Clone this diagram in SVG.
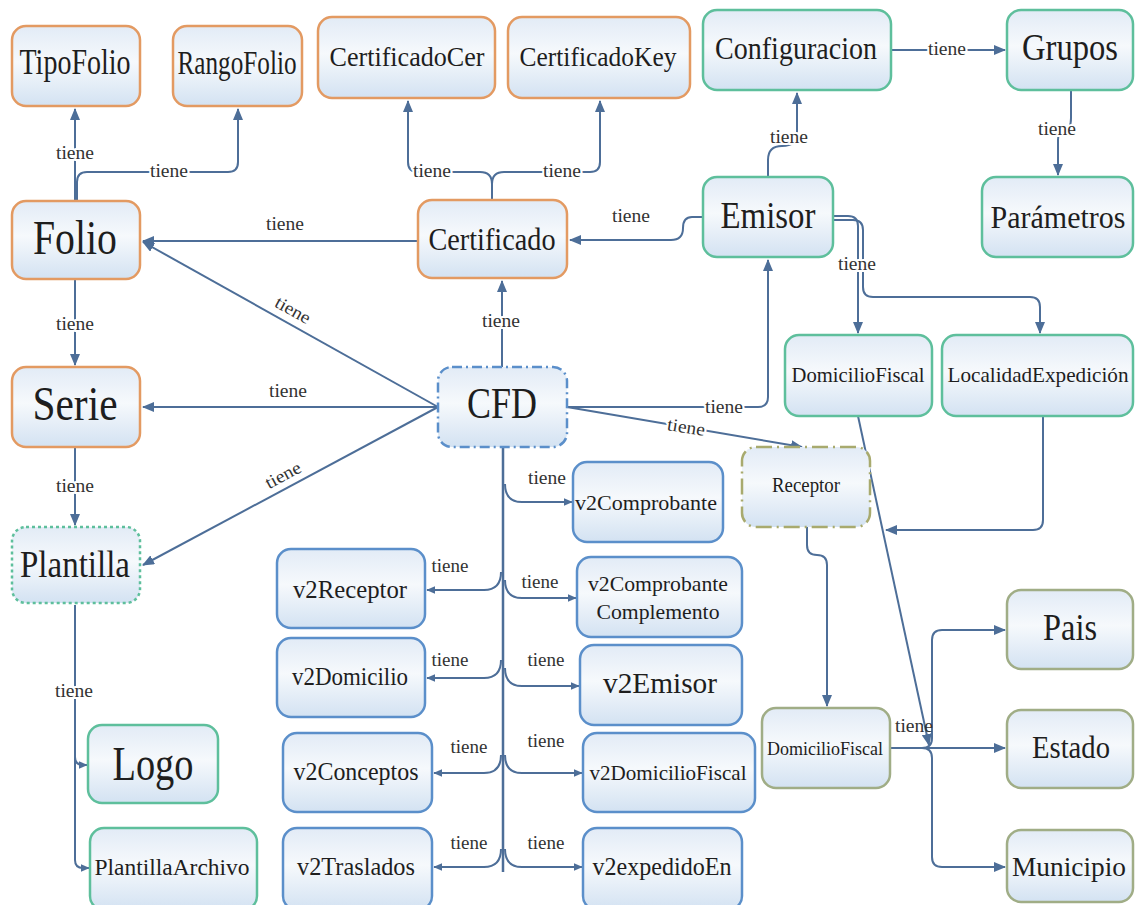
<svg xmlns="http://www.w3.org/2000/svg" width="1135" height="905" viewBox="0 0 1135 905">
<defs>
<linearGradient id="g" x1="0" y1="0" x2="0" y2="1">
<stop offset="0" stop-color="#e2ebf6"/>
<stop offset="0.45" stop-color="#f6f9fc"/>
<stop offset="1" stop-color="#d3e2f2"/>
</linearGradient>
<marker id="a" viewBox="0 0 12 10" refX="11" refY="5" markerWidth="12" markerHeight="10" markerUnits="userSpaceOnUse" orient="auto">
<path d="M0,0 L12,5 L0,10 Z" fill="#4d6e98"/>
</marker>
<marker id="s" viewBox="0 0 12 10" refX="11" refY="5" markerWidth="9" markerHeight="8" markerUnits="userSpaceOnUse" orient="auto">
<path d="M0,0 L12,5 L0,10 Z" fill="#4d6e98"/>
</marker>
</defs>
<style>
rect{fill:url(#g);stroke-width:2.5}
.o rect{stroke:#e39a62}
.gr rect{stroke:#5ebf9c}
.b rect{stroke:#5b8fca}
.ol rect{stroke:#a0ad86}
text{font-family:"Liberation Serif","DejaVu Serif",serif;fill:#1e1e1e;text-anchor:middle}
.c path,.c line{fill:none;stroke:#4d6e98;stroke-width:2}
.l text{font-size:18px;fill:#333;stroke:#fff;stroke-width:4;paint-order:stroke;stroke-linejoin:round}
</style>
<rect x="0" y="0" width="1135" height="905" style="fill:#fff;stroke:none"/>
<g id="connectors" class="c">
<path d="M75 201 L75 109" marker-end="url(#a)"/>
<path d="M77 201 L77 182 Q77 172 87 172 L228 172 Q238 172 238 162 L238 109" marker-end="url(#a)"/>
<path d="M418 241 L143 241" marker-end="url(#a)"/>
<path d="M492 200 L492 184 Q492 172 480 172 L418 172 Q408 172 408 162 L408 101" marker-end="url(#a)"/>
<path d="M492 200 L492 184 Q492 172 504 172 L590 172 Q600 172 600 162 L600 101" marker-end="url(#a)"/>
<path d="M703 217 L692 217 Q683 217 683 228 Q683 240 671 240 L570 240" marker-end="url(#a)"/>
<path d="M891 50 L1005 50" marker-end="url(#a)"/>
<path d="M768 177 L768 160 Q768 146 782 146 Q797 146 797 132 L797 93" marker-end="url(#a)"/>
<path d="M1071 90 L1071 118 Q1071 130 1064 130 Q1058 130 1058 140 L1058 175" marker-end="url(#a)"/>
<path d="M833 216 L848 216 Q858 216 858 226 L858 333" marker-end="url(#a)"/>
<path d="M833 220 L853 220 Q863 220 863 230 L863 287 Q863 297 873 297 L1030 297 Q1040 297 1040 307 L1040 333" marker-end="url(#a)"/>
<path d="M75 279 L75 365" marker-end="url(#a)"/>
<path d="M75 447 L75 525" marker-end="url(#a)"/>
<path d="M438 407 L143 242" marker-end="url(#a)"/>
<path d="M438 407 L143 407" marker-end="url(#a)"/>
<path d="M438 407 L143 565" marker-end="url(#a)"/>
<path d="M502 367 L502 281" marker-end="url(#a)"/>
<path d="M567 407 L758 407 Q768 407 768 397 L768 260" marker-end="url(#a)"/>
<path d="M567 407 L802 447" marker-end="url(#a)"/>
<path d="M503 447 L503 872" style="stroke-width:2.5"/>
<path d="M505 484 Q505 502 522 502 L572 502" marker-end="url(#s)"/>
<path d="M505 580 Q505 598 522 598 L576 598" marker-end="url(#s)"/>
<path d="M505 668 Q505 686 522 686 L579 686" marker-end="url(#s)"/>
<path d="M505 755 Q505 773 522 773 L582 773" marker-end="url(#s)"/>
<path d="M505 849 Q505 867 522 867 L582 867" marker-end="url(#s)"/>
<path d="M501 572 Q501 590 484 590 L427 590" marker-end="url(#s)"/>
<path d="M501 660 Q501 678 484 678 L427 678" marker-end="url(#s)"/>
<path d="M501 755 Q501 773 484 773 L434 773" marker-end="url(#s)"/>
<path d="M501 849 Q501 867 484 867 L434 867" marker-end="url(#s)"/>
<path d="M75 605 L75 860 Q75 868 83 868 L89 868" marker-end="url(#s)"/>
<path d="M75 757 Q75 765 83 765 L87 765" marker-end="url(#s)"/>
<path d="M1043 416 L1043 520 Q1043 530 1033 530 L886 530" marker-end="url(#a)"/>
<path d="M858 416 L929 745" marker-end="url(#a)"/>
<path d="M807 527 L807 545 Q807 555 817 555 Q827 555 827 565 L827 706" marker-end="url(#a)"/>
<path d="M890 748 L922 748 Q932 748 932 738 L932 640 Q932 630 942 630 L1005 630" marker-end="url(#a)"/>
<path d="M890 748 L1005 748" marker-end="url(#a)"/>
<path d="M922 748 Q932 748 932 758 L932 857 Q932 867 942 867 L1005 867" marker-end="url(#a)"/>
</g>
<g id="labels" class="l">
<text x="75" y="159" textLength="38" lengthAdjust="spacingAndGlyphs">tiene</text>
<text x="169" y="177" textLength="38" lengthAdjust="spacingAndGlyphs">tiene</text>
<text x="285" y="230" textLength="38" lengthAdjust="spacingAndGlyphs">tiene</text>
<text x="432" y="177" textLength="38" lengthAdjust="spacingAndGlyphs">tiene</text>
<text x="562" y="177" textLength="38" lengthAdjust="spacingAndGlyphs">tiene</text>
<text x="631" y="222" textLength="38" lengthAdjust="spacingAndGlyphs">tiene</text>
<text x="947" y="55" textLength="38" lengthAdjust="spacingAndGlyphs">tiene</text>
<text x="789" y="143" textLength="38" lengthAdjust="spacingAndGlyphs">tiene</text>
<text x="1057" y="135" textLength="38" lengthAdjust="spacingAndGlyphs">tiene</text>
<text x="857" y="270" textLength="38" lengthAdjust="spacingAndGlyphs">tiene</text>
<text x="75" y="330" textLength="38" lengthAdjust="spacingAndGlyphs">tiene</text>
<text x="288" y="397" textLength="38" lengthAdjust="spacingAndGlyphs">tiene</text>
<text x="293" y="316" textLength="38" lengthAdjust="spacingAndGlyphs" transform="rotate(29 293 310)">tiene</text>
<text x="75" y="492" textLength="38" lengthAdjust="spacingAndGlyphs">tiene</text>
<text x="283" y="481" textLength="38" lengthAdjust="spacingAndGlyphs" transform="rotate(-28 283 475)">tiene</text>
<text x="501" y="327" textLength="38" lengthAdjust="spacingAndGlyphs">tiene</text>
<text x="724" y="413" textLength="38" lengthAdjust="spacingAndGlyphs">tiene</text>
<text x="686" y="433" textLength="38" lengthAdjust="spacingAndGlyphs" transform="rotate(9 686 428)">tiene</text>
<text x="547" y="484" textLength="38" lengthAdjust="spacingAndGlyphs">tiene</text>
<text x="450" y="572" textLength="37" lengthAdjust="spacingAndGlyphs">tiene</text>
<text x="540" y="588" textLength="37" lengthAdjust="spacingAndGlyphs">tiene</text>
<text x="450" y="666" textLength="37" lengthAdjust="spacingAndGlyphs">tiene</text>
<text x="546" y="666" textLength="37" lengthAdjust="spacingAndGlyphs">tiene</text>
<text x="469" y="753" textLength="37" lengthAdjust="spacingAndGlyphs">tiene</text>
<text x="546" y="747" textLength="37" lengthAdjust="spacingAndGlyphs">tiene</text>
<text x="469" y="849" textLength="37" lengthAdjust="spacingAndGlyphs">tiene</text>
<text x="546" y="849" textLength="37" lengthAdjust="spacingAndGlyphs">tiene</text>
<text x="74" y="697" textLength="38" lengthAdjust="spacingAndGlyphs">tiene</text>
<text x="914" y="732" textLength="38" lengthAdjust="spacingAndGlyphs" style="stroke:none">tiene</text>
</g>
<g id="TipoFolio" class="o"><rect x="12" y="26" width="128" height="80" rx="14"/><text x="75" y="74" font-size="35" textLength="111" lengthAdjust="spacingAndGlyphs">TipoFolio</text></g>
<g id="RangoFolio" class="o"><rect x="173" y="26" width="129" height="80" rx="14"/><text x="237" y="74" font-size="34" textLength="119" lengthAdjust="spacingAndGlyphs">RangoFolio</text></g>
<g id="CertificadoCer" class="o"><rect x="318" y="17" width="177" height="81" rx="14"/><text x="407" y="66" font-size="28" textLength="155" lengthAdjust="spacingAndGlyphs">CertificadoCer</text></g>
<g id="CertificadoKey" class="o"><rect x="508" y="17" width="182" height="81" rx="14"/><text x="598" y="66" font-size="28" textLength="157" lengthAdjust="spacingAndGlyphs">CertificadoKey</text></g>
<g id="Configuracion" class="gr"><rect x="703" y="10" width="188" height="80" rx="14"/><text x="796" y="59" font-size="31" textLength="162" lengthAdjust="spacingAndGlyphs">Configuracion</text></g>
<g id="Grupos" class="gr"><rect x="1007" y="10" width="126" height="80" rx="14"/><text x="1070" y="60" font-size="38" textLength="96" lengthAdjust="spacingAndGlyphs">Grupos</text></g>
<g id="Folio" class="o"><rect x="12" y="201" width="128" height="78" rx="14"/><text x="75" y="254" font-size="48" textLength="84" lengthAdjust="spacingAndGlyphs">Folio</text></g>
<g id="Certificado" class="o"><rect x="418" y="200" width="149" height="78" rx="14"/><text x="492" y="250" font-size="32" textLength="127" lengthAdjust="spacingAndGlyphs">Certificado</text></g>
<g id="Emisor" class="gr"><rect x="703" y="177" width="130" height="80" rx="14"/><text x="768" y="228" font-size="38" textLength="95" lengthAdjust="spacingAndGlyphs">Emisor</text></g>
<g id="Parametros" class="gr"><rect x="982" y="177" width="151" height="80" rx="14"/><text x="1058" y="228" font-size="31" textLength="135" lengthAdjust="spacingAndGlyphs">Parámetros</text></g>
<g id="Serie" class="o"><rect x="12" y="367" width="128" height="80" rx="14"/><text x="75" y="420" font-size="48" textLength="85" lengthAdjust="spacingAndGlyphs">Serie</text></g>
<g id="CFD"><rect x="438" y="367" width="129" height="80" rx="14" style="stroke:#5b8fca;stroke-dasharray:10 4 2 4"/><text x="502" y="418" font-size="44" textLength="70" lengthAdjust="spacingAndGlyphs">CFD</text></g>
<g id="DomicilioFiscalEmisor" class="gr"><rect x="785" y="335" width="147" height="81" rx="14"/><text x="858" y="382" font-size="21" textLength="133" lengthAdjust="spacingAndGlyphs">DomicilioFiscal</text></g>
<g id="LocalidadExpedicion" class="gr"><rect x="942" y="335" width="191" height="81" rx="14"/><text x="1038" y="382" font-size="21" textLength="181" lengthAdjust="spacingAndGlyphs">LocalidadExpedición</text></g>
<g id="Receptor"><rect x="742" y="447" width="128" height="80" rx="14" style="stroke:#a8aa6e;stroke-dasharray:16 5 2 5"/><text x="806" y="492" font-size="20" textLength="68" lengthAdjust="spacingAndGlyphs">Receptor</text></g>
<g id="Plantilla"><rect x="12" y="527" width="128" height="76" rx="14" style="stroke:#5ebf9c;stroke-dasharray:3 3"/><text x="75" y="577" font-size="37" textLength="110" lengthAdjust="spacingAndGlyphs">Plantilla</text></g>
<g id="v2Comprobante" class="b"><rect x="573" y="462" width="150" height="80" rx="14"/><text x="646" y="510" font-size="22" textLength="142" lengthAdjust="spacingAndGlyphs">v2Comprobante</text></g>
<g id="v2Receptor" class="b"><rect x="277" y="549" width="148" height="79" rx="14"/><text x="350" y="598" font-size="25" textLength="114" lengthAdjust="spacingAndGlyphs">v2Receptor</text></g>
<g id="v2ComprobanteComplemento" class="b"><rect x="577" y="557" width="165" height="80" rx="14"/><text x="658" y="591" font-size="22" textLength="140" lengthAdjust="spacingAndGlyphs">v2Comprobante</text><text x="658" y="619" font-size="22" textLength="123" lengthAdjust="spacingAndGlyphs">Complemento</text></g>
<g id="v2Domicilio" class="b"><rect x="277" y="638" width="148" height="79" rx="14"/><text x="350" y="685" font-size="26" textLength="116" lengthAdjust="spacingAndGlyphs">v2Domicilio</text></g>
<g id="v2Emisor" class="b"><rect x="580" y="645" width="162" height="80" rx="14"/><text x="660" y="693" font-size="30" textLength="114" lengthAdjust="spacingAndGlyphs">v2Emisor</text></g>
<g id="v2Conceptos" class="b"><rect x="283" y="733" width="149" height="79" rx="14"/><text x="356" y="780" font-size="26" textLength="125" lengthAdjust="spacingAndGlyphs">v2Conceptos</text></g>
<g id="v2DomicilioFiscal" class="b"><rect x="583" y="733" width="172" height="79" rx="14"/><text x="668" y="780" font-size="22" textLength="157" lengthAdjust="spacingAndGlyphs">v2DomicilioFiscal</text></g>
<g id="v2Traslados" class="b"><rect x="283" y="828" width="149" height="82" rx="14"/><text x="356" y="875" font-size="26" textLength="118" lengthAdjust="spacingAndGlyphs">v2Traslados</text></g>
<g id="v2expedidoEn" class="b"><rect x="583" y="828" width="159" height="82" rx="14"/><text x="662" y="875" font-size="26" textLength="139" lengthAdjust="spacingAndGlyphs">v2expedidoEn</text></g>
<g id="Logo" class="gr"><rect x="88" y="725" width="130" height="78" rx="14"/><text x="153" y="780" font-size="48" textLength="81" lengthAdjust="spacingAndGlyphs">Logo</text></g>
<g id="PlantillaArchivo" class="gr"><rect x="90" y="828" width="167" height="82" rx="14"/><text x="172" y="875" font-size="24" textLength="155" lengthAdjust="spacingAndGlyphs">PlantillaArchivo</text></g>
<g id="DomicilioFiscalReceptor" class="ol"><rect x="762" y="708" width="128" height="80" rx="14"/><text x="825" y="755" font-size="19" textLength="116" lengthAdjust="spacingAndGlyphs">DomicilioFiscal</text></g>
<g id="Pais" class="ol"><rect x="1007" y="590" width="126" height="79" rx="14"/><text x="1070" y="640" font-size="38" textLength="54" lengthAdjust="spacingAndGlyphs">Pais</text></g>
<g id="Estado" class="ol"><rect x="1007" y="710" width="126" height="78" rx="14"/><text x="1071" y="758" font-size="32" textLength="78" lengthAdjust="spacingAndGlyphs">Estado</text></g>
<g id="Municipio" class="ol"><rect x="1007" y="830" width="126" height="72" rx="14"/><text x="1069" y="876" font-size="28" textLength="114" lengthAdjust="spacingAndGlyphs">Municipio</text></g>
</svg>
